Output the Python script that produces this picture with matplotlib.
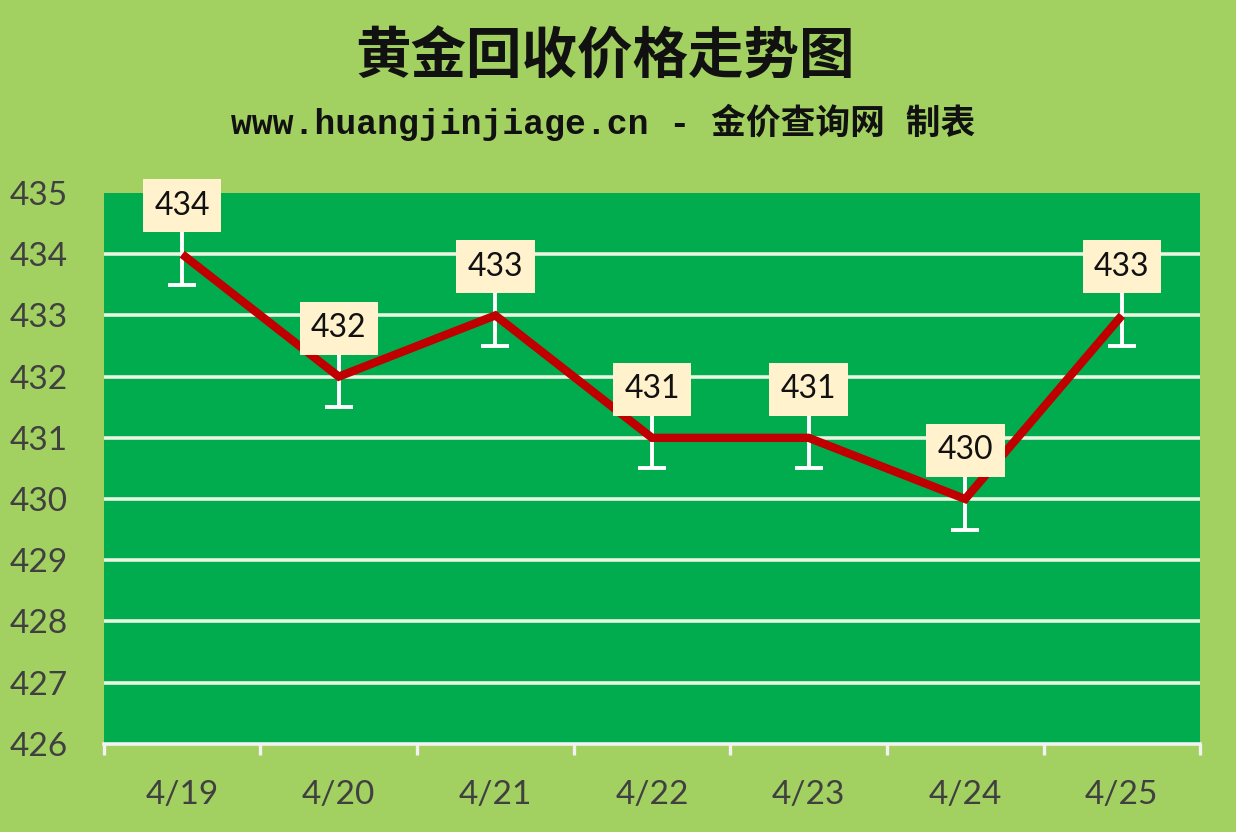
import matplotlib.pyplot as plt

dates = ["4/19", "4/20", "4/21", "4/22", "4/23", "4/24", "4/25"]
prices = [434, 432, 433, 431, 431, 430, 433]
y_ticks = [426, 427, 428, 429, 430, 431, 432, 433, 434, 435]
err = 0.5

title = "黄金回收价格走势图"
subtitle = "www.huangjinjiage.cn - 金价查询网 制表"

fig = plt.figure(figsize=(12.36, 8.32), dpi=100, facecolor="#A2D061")
ax = fig.add_axes([0.084, 0.106, 0.887, 0.662])
ax.set_facecolor("#00AC4E")

x = list(range(len(dates)))

# white grid lines
for yv in y_ticks[1:-1]:
    ax.axhline(yv, color="#E8F5E0", lw=2.6, zorder=1)

# error bars (down side) + leader up to the label
ax.errorbar(x, prices, yerr=[[err] * len(x), [0.6] * len(x)], fmt="none",
            ecolor="white", elinewidth=2.8, capsize=10, capthick=2.8, zorder=2)

ax.plot(x, prices, color="#C00000", lw=6, solid_joinstyle="miter",
        solid_capstyle="butt", zorder=3)

for xi, yi in zip(x, prices):
    ax.annotate(str(yi), (xi, yi), xytext=(0, 35), textcoords="offset points",
                ha="center", va="center", fontsize=23, family="Lato",
                color="#111111", zorder=5, annotation_clip=False,
                bbox=dict(boxstyle="square,pad=0.36", fc="#FFF2CC", ec="none"))

ax.set_xlim(-0.5, len(dates) - 0.5)
ax.set_ylim(426, 435)
ax.set_yticks(y_ticks)
ax.set_yticklabels([str(v) for v in y_ticks], family="Lato", fontsize=24,
                   color="#404040")
ax.set_xticks(x)
ax.set_xticklabels(dates, family="Lato", fontsize=24, color="#404040")
ax.set_xticks([i - 0.5 for i in range(len(dates) + 1)], minor=True)
ax.tick_params(axis="y", length=0, pad=26)
ax.tick_params(axis="x", which="major", length=0, pad=26)
ax.tick_params(axis="x", which="minor", length=8, width=2.4, color="#F2F2F2",
               direction="out")

for s in ["top", "right", "left"]:
    ax.spines[s].set_visible(False)
ax.spines["bottom"].set_color("#F2F2F2")
ax.spines["bottom"].set_linewidth(2.6)

fig.text(0.49, 0.931, title, ha="center", va="center", fontsize=40,
         fontweight="bold", family=["Noto Sans CJK SC", "DejaVu Sans"],
         color="#111111")
fig.text(0.488, 0.853, subtitle, ha="center", va="center", fontsize=25,
         fontweight="bold", family=["Liberation Mono", "Noto Sans CJK SC"],
         color="#111111")

fig.savefig("out.png", dpi=100, facecolor=fig.get_facecolor())
